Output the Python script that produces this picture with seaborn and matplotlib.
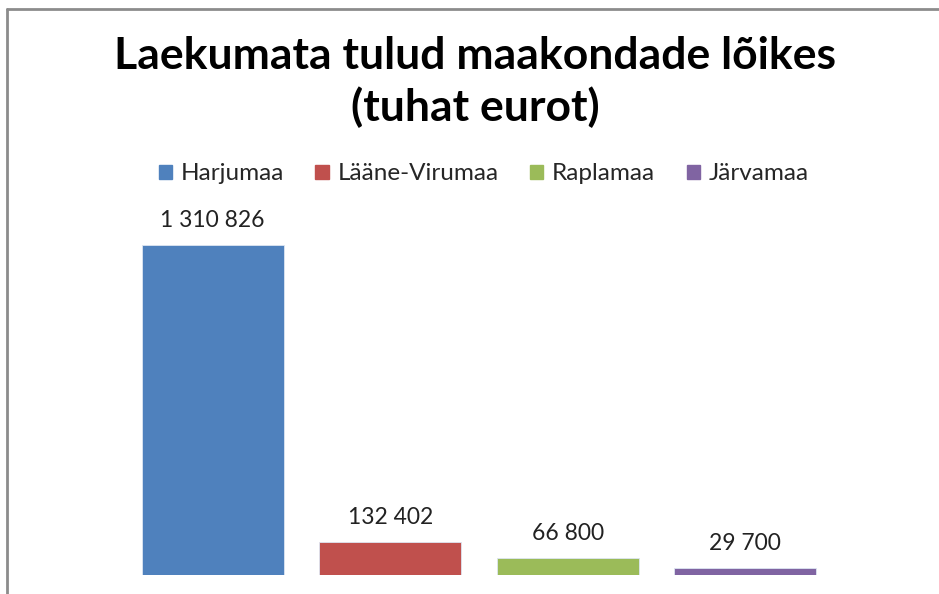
import matplotlib
matplotlib.use("Agg")
import matplotlib.pyplot as plt
import seaborn as sns
import pandas as pd
from matplotlib.lines import Line2D

categories = ["Harjumaa", "Lääne-Virumaa", "Raplamaa", "Järvamaa"]
values = [1310826, 132402, 66800, 29700]
value_labels = ["1 310 826", "132 402", "66 800", "29 700"]
colors = ["#4F81BD", "#C0504D", "#9BBB59", "#8064A2"]
title = "Laekumata tulud maakondade lõikes\n(tuhat eurot)"

sns.set_theme(style="white")
plt.rcParams['font.family'] = ['Lato', 'DejaVu Sans']

df = pd.DataFrame({"maakond": categories, "summa": values})

fig = plt.figure(figsize=(9.39, 5.94), dpi=100)
ax = fig.add_axes([124/939, 1-575/594, (834-124)/939, 352.5/594])

sns.barplot(data=df, x="maakond", y="summa", hue="maakond", palette=colors,
            width=0.8, ax=ax, legend=False, edgecolor="#dde6f2", linewidth=0.6,
            saturation=1)
ax.set_xlim(-0.5, 3.5)
ax.set_ylim(0, 1400000)
ax.set_axis_off()

for i, (v, lab) in enumerate(zip(values, value_labels)):
    ax.annotate(lab, (i, v), xytext=(0, 10), textcoords="offset points",
                ha="center", va="bottom", fontsize=16.5, color="#222222")

fig.text(0.506, 1-82/594, title, ha="center", va="center", fontsize=32,
         fontweight="bold", color="black", linespacing=1.3)

handles = [plt.Rectangle((0, 0), 1, 1, color=c) for c in colors]
fig.legend(handles, categories, loc="center", bbox_to_anchor=(0.515, 1-174/594),
           ncol=4, frameon=False, fontsize=17.5, handlelength=0.55, handleheight=0.55,
           handletextpad=0.35, columnspacing=1.3)

# chart frame
fig.add_artist(Line2D([7/939, 7/939], [0, 1-9/594], color="#8c8c8c", lw=2))
fig.add_artist(Line2D([7/939, 1], [1-9/594, 1-9/594], color="#8c8c8c", lw=2))

fig.savefig("out.png", dpi=100)
